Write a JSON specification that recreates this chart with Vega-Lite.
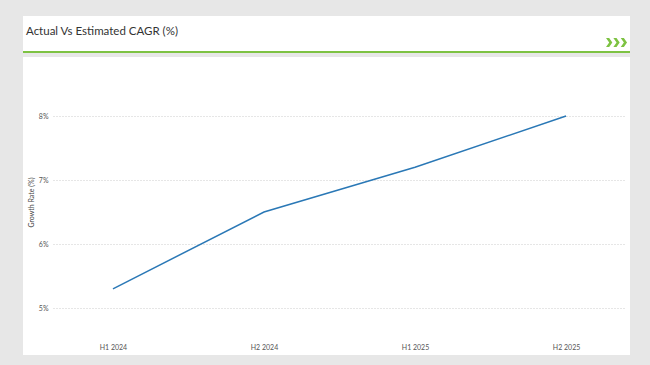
{
  "$schema": "https://vega.github.io/schema/vega-lite/v6.json",
  "background": "#e7e7e7",
  "padding": {"left": 22, "top": 16, "right": 21, "bottom": 10},
  "spacing": 4,
  "config": {
    "view": {"stroke": null, "fill": "white"},
    "font": "Lato"
  },
  "vconcat": [
    {
      "width": 607,
      "height": 37,
      "layer": [
        {
          "data": {"values": [{"label": "Actual Vs Estimated CAGR (%)"}]},
          "mark": {"type": "text", "align": "left", "baseline": "middle", "fontSize": 11.5, "color": "#333333", "dx": 3, "font": "Lato"},
          "encoding": {
            "x": {"datum": 0, "type": "quantitative", "scale": {"domain": [0, 1], "nice": false}, "axis": null},
            "y": {"datum": 0.57, "type": "quantitative", "scale": {"domain": [0, 1], "nice": false}, "axis": null},
            "text": {"field": "label"}
          }
        },
        {
          "data": {"values": [{"pos": 0.9778, "level": 0.284}]},
          "mark": {
            "type": "point",
            "filled": true,
            "opacity": 1,
            "color": "#7dc242",
            "size": 441,
            "shape": "M-1,-0.43L-0.7,-0.43L-0.4,0L-0.7,0.43L-1,0.43L-0.7,0Z M-0.3,-0.43L0,-0.43L0.3,0L0,0.43L-0.3,0.43L0,0Z M0.4,-0.43L0.7,-0.43L1,0L0.7,0.43L0.4,0.43L0.7,0Z"
          },
          "encoding": {
            "x": {"field": "pos", "type": "quantitative"},
            "y": {"field": "level", "type": "quantitative"}
          }
        },
        {
          "data": {"values": [{"start": 0, "end": 1, "level": 0.03}]},
          "mark": {"type": "rule", "color": "#7dc242", "strokeWidth": 2},
          "encoding": {
            "x": {"field": "start", "type": "quantitative"},
            "x2": {"field": "end"},
            "y": {"field": "level", "type": "quantitative"}
          }
        }
      ]
    },
    {
      "width": 607,
      "height": 298,
      "data": {
        "values": [
          {"period": "H1 2024", "growth": 5.3},
          {"period": "H2 2024", "growth": 6.5},
          {"period": "H1 2025", "growth": 7.2},
          {"period": "H2 2025", "growth": 8.0}
        ]
      },
      "mark": {"type": "line", "color": "#2a78b6", "strokeWidth": 1.5},
      "encoding": {
        "x": {
          "field": "period",
          "type": "ordinal",
          "sort": null,
          "scale": {"type": "point", "range": [30, 603], "padding": 0.397},
          "axis": {
            "title": null,
            "orient": "bottom",
            "offset": -12,
            "domain": false,
            "ticks": false,
            "grid": false,
            "labelAngle": 0,
            "labelFontSize": 7,
            "labelColor": "#555555",
            "labelPadding": 0
          }
        },
        "y": {
          "field": "growth",
          "type": "quantitative",
          "scale": {"domain": [4.266, 8.922], "nice": false, "zero": false},
          "axis": {
            "title": "Growth Rate (%)",
            "values": [5, 6, 7, 8],
            "labelExpr": "datum.value + '%'",
            "offset": -27,
            "domain": false,
            "ticks": false,
            "grid": true,
            "gridDash": [1, 2],
            "gridColor": "#cccccc",
            "gridWidth": 1,
            "labelFontSize": 7,
            "labelColor": "#555555",
            "labelPadding": 2,
            "titleFontSize": 7,
            "titleFontWeight": "normal",
            "titleColor": "#444444",
            "titlePadding": 4,
            "titleY": 145
          }
        }
      }
    }
  ]
}
